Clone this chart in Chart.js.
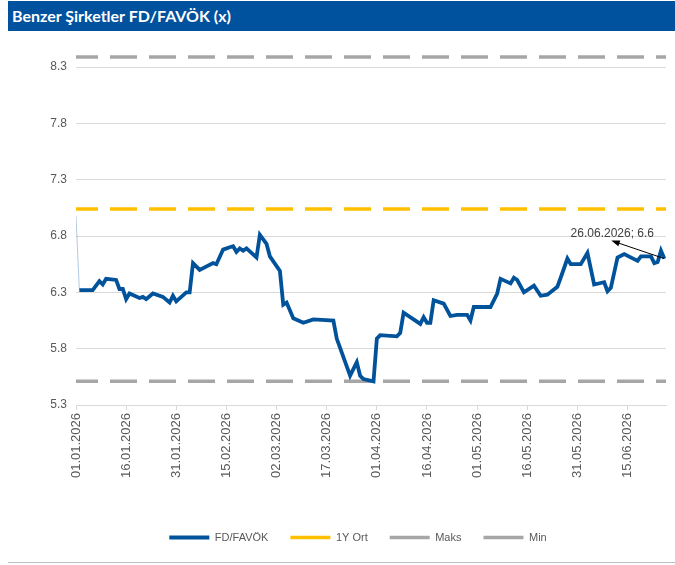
<!DOCTYPE html>
<html>
<head>
<meta charset="utf-8">
<script src="https://cdn.jsdelivr.net/npm/chart.js@4.4.1/dist/chart.umd.min.js"></script>
<style>
body{margin:0;background:#fff;width:675px;height:565px;position:relative;overflow:hidden;font-family:"Liberation Sans",Arial,sans-serif}
#title{position:absolute;left:8px;top:1px;width:667px;height:30px;background:#00519e;color:#fff;font:bold 16px Lato,sans-serif;line-height:30px;padding-left:4px;box-sizing:border-box}
#wrap{position:absolute;left:0;top:32px;width:675px;height:533px}
#bottomLine{position:absolute;left:8px;top:562px;width:667px;height:1px;background:#bfbfbf}
</style>
</head>
<body>
<div id="title">Benzer Şirketler FD/FAVÖK (x)</div>
<div id="wrap"><canvas id="mycanvas"></canvas></div>
<div id="bottomLine"></div>
<script>
var dates = ['01.01.2026','02.01.2026','06.01.2026','08.01.2026','09.01.2026','10.01.2026','13.01.2026','14.01.2026','15.01.2026','16.01.2026',
	'17.01.2026','20.01.2026','21.01.2026','22.01.2026','24.01.2026','27.01.2026','29.01.2026','30.01.2026','31.01.2026',
	'03.02.2026','04.02.2026','05.02.2026','07.02.2026','11.02.2026','12.02.2026','14.02.2026','16.02.2026','17.02.2026','18.02.2026',
	'19.02.2026','20.02.2026','21.02.2026','24.02.2026','25.02.2026','27.02.2026','28.02.2026',
	'03.03.2026','04.03.2026','05.03.2026','07.03.2026','10.03.2026','13.03.2026','19.03.2026','20.03.2026','24.03.2026','26.03.2026',
	'27.03.2026','28.03.2026','31.03.2026',
	'01.04.2026','02.04.2026','07.04.2026','08.04.2026','09.04.2026','14.04.2026','15.04.2026','16.04.2026','17.04.2026','18.04.2026',
	'21.04.2026','23.04.2026','25.04.2026','28.04.2026','29.04.2026','30.04.2026',
	'05.05.2026','07.05.2026','08.05.2026','11.05.2026','12.05.2026','13.05.2026','15.05.2026','18.05.2026','20.05.2026','22.05.2026',
	'25.05.2026','26.05.2026','28.05.2026','29.05.2026',
	'01.06.2026','03.06.2026','05.06.2026','08.06.2026','09.06.2026','10.06.2026','12.06.2026','14.06.2026','18.06.2026','19.06.2026',
	'22.06.2026','23.06.2026','24.06.2026','25.06.2026','26.06.2026'];
var values = [6.98,6.32,6.32,6.40,6.37,6.42,6.41,6.33,6.33,6.24,
	6.29,6.25,6.26,6.24,6.29,6.26,6.21,6.27,6.22,
	6.30,6.30,6.56,6.50,6.56,6.55,6.68,6.70,6.71,6.66,
	6.69,6.67,6.69,6.61,6.81,6.73,6.62,
	6.49,6.19,6.21,6.07,6.03,6.06,6.05,5.89,5.56,5.68,
	5.56,5.53,5.51,
	5.89,5.92,5.91,5.94,6.12,6.02,6.08,6.03,6.03,6.23,
	6.20,6.09,6.10,6.10,6.05,6.17,
	6.17,6.29,6.42,6.38,6.43,6.41,6.30,6.36,6.27,6.28,
	6.35,6.43,6.60,6.55,
	6.55,6.65,6.37,6.39,6.31,6.34,6.61,6.64,6.58,6.62,
	6.62,6.56,6.57,6.67,6.60];
var statNames = ['1Y Ort','Maks','Min'];
var statValues = [7.04,8.39,5.51];
var statColors = ['#ffc000','#a6a6a6','#a6a6a6'];
var yTicks = [5.3,5.8,6.3,6.8,7.3,7.8,8.3];
var xTicks = ['01.01.2026','16.01.2026','31.01.2026','15.02.2026','02.03.2026','17.03.2026','01.04.2026','16.04.2026','01.05.2026','16.05.2026','31.05.2026','15.06.2026'];

// gun sayisi (01.01.2026 = 0)
function dayOf(s){
	var p = s.split('.').map(Number);
	return Math.round((Date.UTC(p[2],p[1]-1,p[0]) - Date.UTC(2026,0,1))/86400000);
}
function fmtDay(d){
	var dt = new Date(Date.UTC(2026,0,1+d));
	var dd = ('0'+dt.getUTCDate()).slice(-2), mm = ('0'+(dt.getUTCMonth()+1)).slice(-2);
	return dd+'.'+mm+'.'+dt.getUTCFullYear();
}
var xMax = 176.5;

var datasets = [{
	label:'FD/FAVÖK',
	data:dates.map(function(d,i){ return {x:dayOf(d), y:values[i]}; }),
	borderColor:'#00529b',
	backgroundColor:'#00529b',
	borderWidth:3.8,
	pointRadius:0,
	tension:0,
	segment:{
		borderColor:function(c){ return c.p0DataIndex===0 ? 'rgba(0,82,155,0.3)' : undefined; },
		borderWidth:function(c){ return c.p0DataIndex===0 ? 1 : undefined; }
	}
}];
for(var i=0;i<statNames.length;i++)
{
	datasets.push({
		label:statNames[i],
		data:[{x:0,y:statValues[i]},{x:xMax,y:statValues[i]}],
		borderColor:statColors[i],
		backgroundColor:statColors[i],
		borderWidth:3.5,
		borderDash:[27,12],
		borderDashOffset:5,
		pointRadius:0
	});
}

var annot = {
	id:'annot',
	afterLayout:function(chart){
		// legend excel'deki gibi biraz saga
		chart.legend.left += 25;
		chart.legend.right += 25;
	},
	afterDatasetsDraw:function(chart){
		var meta = chart.getDatasetMeta(0);
		var p = meta.data[meta.data.length-1];
		var ctx = chart.ctx;
		var tx = p.x-53, ty = p.y-18;
		ctx.save();
		ctx.strokeStyle = '#000';
		ctx.lineWidth = 1;
		ctx.beginPath(); ctx.moveTo(p.x,p.y); ctx.lineTo(tx+4,ty+1.4); ctx.stroke();
		var a = Math.atan2(ty-p.y, tx-p.x);
		ctx.beginPath();
		ctx.moveTo(tx,ty);
		ctx.lineTo(tx-9*Math.cos(a-0.35), ty-9*Math.sin(a-0.35));
		ctx.lineTo(tx-9*Math.cos(a+0.35), ty-9*Math.sin(a+0.35));
		ctx.closePath();
		ctx.fillStyle = '#000';
		ctx.fill();
		ctx.font = '12px "Liberation Sans", Arial';
		ctx.fillStyle = '#404040';
		ctx.textAlign = 'center';
		var last = values.length-1;
		ctx.fillText(dates[last]+'; '+values[last].toFixed(1), p.x-52, p.y-25);
		ctx.restore();
	}
};

var ctx = document.getElementById('mycanvas');
var chart = new Chart(ctx,{
	type:'line',
	data:{datasets:datasets},
	plugins:[annot],
	options:{
		responsive:true,
		maintainAspectRatio:false,
		animation:false,
		layout:{padding:{top:18,right:9,bottom:12,left:0}},
		plugins:{
			tooltip:{enabled:false},
			legend:{
				position:'bottom',
				labels:{
					usePointStyle:true,
					pointStyle:'line',
					pointStyleWidth:40,
					padding:22,
					color:'#595959',
					font:{family:'"Liberation Sans", Arial',size:11}
				}
			}
		},
		scales:{
			x:{
				type:'linear',
				min:0,
				max:xMax,
				afterBuildTicks:function(s){ s.ticks = xTicks.map(function(t){ return {value:dayOf(t)}; }); },
				afterFit:function(s){ s.height = 105; },
				ticks:{
					autoSkip:false,
					minRotation:90,
					maxRotation:90,
					padding:3,
					color:'#595959',
					font:{family:'"Liberation Sans", Arial',size:13},
					callback:function(v){ return fmtDay(v); }
				},
				grid:{drawOnChartArea:false,drawTicks:true,tickLength:5,color:'#d9d9d9'},
				border:{color:'#d9d9d9'}
			},
			y:{
				min:5.3,
				max:8.452,
				afterBuildTicks:function(s){ s.ticks = yTicks.map(function(v){ return {value:v}; }); },
				afterFit:function(s){ s.width = 76; },
				ticks:{
					padding:9,
					color:'#595959',
					font:{family:'"Liberation Sans", Arial',size:12},
					callback:function(v){ return v.toFixed(1); }
				},
				grid:{color:'#d9d9d9',drawTicks:false},
				border:{display:false}
			}
		}
	}
});
</script>
</body>
</html>
